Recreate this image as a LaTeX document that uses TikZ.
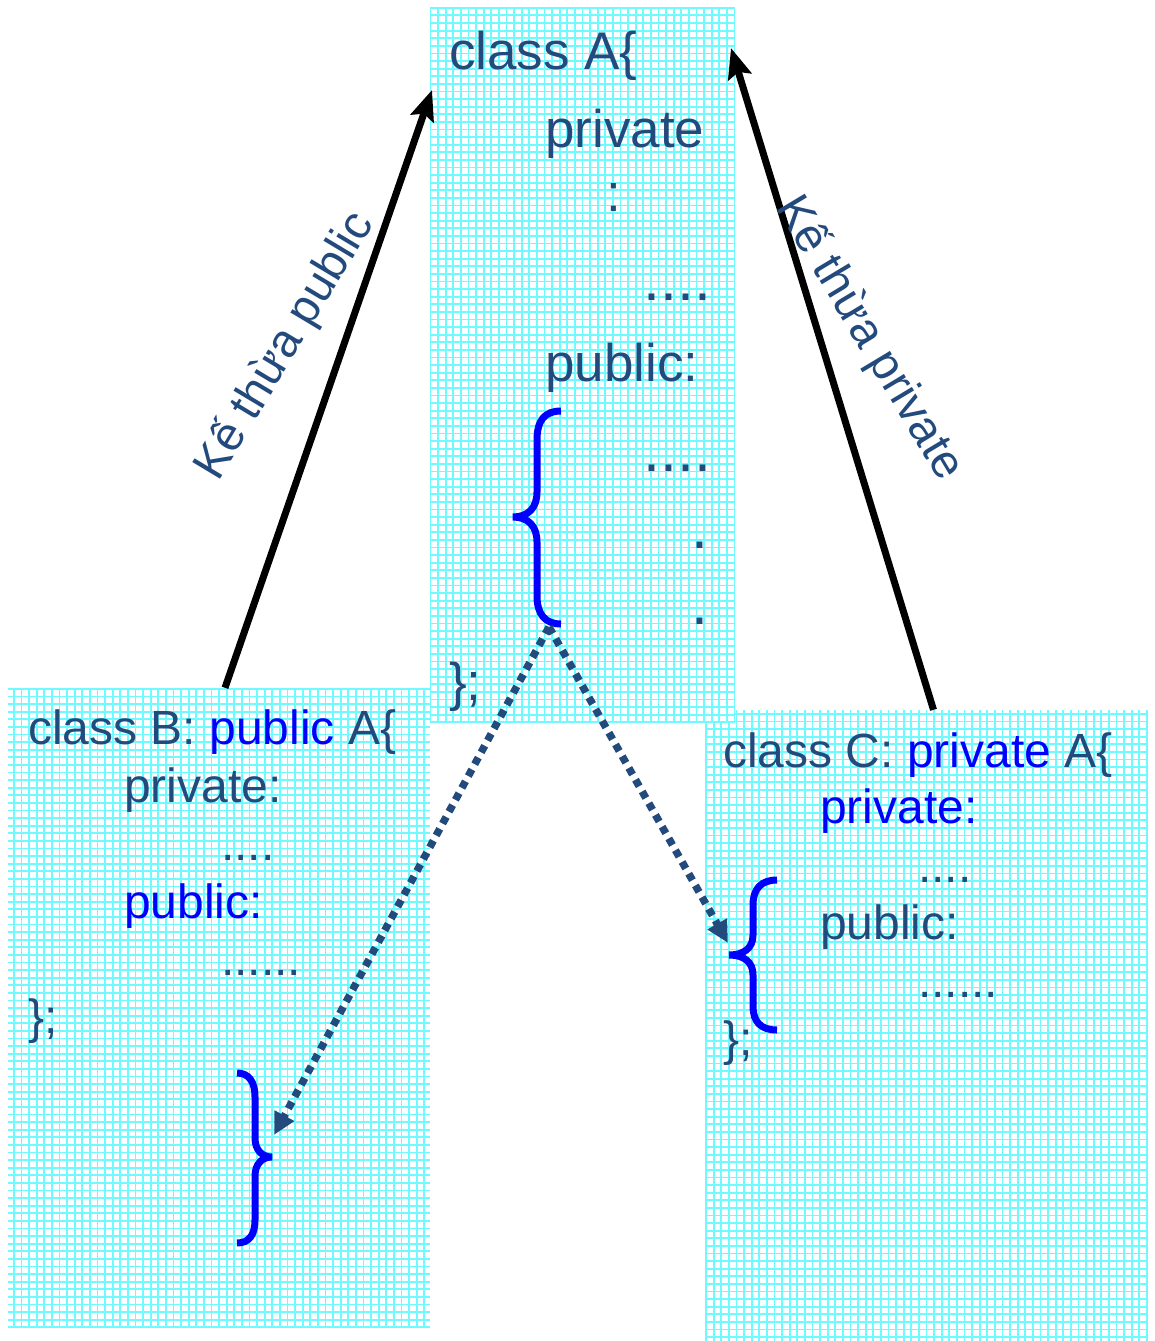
\documentclass[tikz,border=0pt]{standalone}
\usepackage{fontspec}
\setmainfont{Liberation Sans}
\usetikzlibrary{arrows.meta}
\definecolor{textblue}{RGB}{35,74,124}
\definecolor{keyblue}{RGB}{0,0,255}
\definecolor{gridcyan}{RGB}{110,250,255}

\begin{document}
\begin{tikzpicture}[x=1pt, y=-1pt,
      classbox/.style={inner sep=0pt, fill=white,
        path picture={\draw[gridcyan, line width=1.8pt]
          (path picture bounding box.south west) grid[step=7.6pt]
          (path picture bounding box.north east);}},
      code/.style={anchor=base west, inner sep=0pt, text=textblue,
        font=\fontsize{48}{56}\selectfont},
      bigcode/.style={code, font=\fontsize{53}{60}\selectfont},
      dots/.style={code, font=\fontsize{61}{70}\selectfont},
      label/.style={anchor=base west, inner sep=0pt, text=textblue,
        font=\fontsize{47}{54}\selectfont},
      curly/.style={keyblue, line width=7pt},
      inherit/.style={-{Stealth[length=30pt, width=24pt, inset=5pt]}, line width=7pt},
      dotline/.style={-{Triangle[length=22pt, width=21pt]}, textblue,
        line width=7.5pt, dash pattern=on 7.5pt off 6pt}
    ]
    \useasboundingbox (0,0) rectangle (1155,1341);

    % the three class boxes
    \node[classbox, minimum width=422pt, minimum height=640pt] (B) at (219,1008) {};
    \node[classbox, minimum width=443pt, minimum height=631pt] (C) at (926.5,1025.5) {};
    \node[classbox, minimum width=305pt, minimum height=716pt] (A) at (582.5,365) {};

    % class A
    \node[bigcode] (a1) at (449,69) {class A\{};
    \node[bigcode] (a2) at (545,147) {private};
    \node[bigcode] (a3) at (606,211) {:};
    \node[dots] (a4) at (643,300) {....};
    \node[bigcode] (a5) at (545,381) {public:};
    \node[dots] (a6) at (643,471) {....};
    \node[dots] (a7) at (691,548) {.};
    \node[dots] (a8) at (691,624) {.};
    \node[bigcode] (a9) at (449,700) {\};};

    % class B
    \node[code] (b1) at (28,744) {class B: \textcolor{keyblue}{public} A\{};
    \node[code] (b2) at (124,802) {private:};
    \node[code] (b3) at (221,860) {....};
    \node[code, text=keyblue] (b4) at (124,918) {public:};
    \node[code] (b5) at (221,975) {......};
    \node[code] (b6) at (28,1033) {\};};

    % class C
    \node[code] (c1) at (723,767) {class C: \textcolor{keyblue}{private} A\{};
    \node[code, text=keyblue] (c2) at (820,823) {private:};
    \node[code] (c3) at (918,882) {....};
    \node[code] (c4) at (820,939) {public:};
    \node[code] (c5) at (918,997) {......};
    \node[code] (c6) at (723,1055) {\};};

    % braces
    \draw[curly] (561,411) .. controls (545,411) and (537,420) .. (537,440)
      -- (537,492) .. controls (537,508) and (528,517) .. (513,517)
      .. controls (528,517) and (537,526) .. (537,542)
      -- (537,596) .. controls (537,614) and (545,624) .. (561,624);
    \draw[curly] (237,1073) .. controls (249,1073) and (255,1082) .. (255,1097)
      -- (255,1138) .. controls (255,1150) and (262,1157) .. (272,1157)
      .. controls (262,1157) and (255,1164) .. (255,1176)
      -- (255,1220) .. controls (255,1235) and (249,1243) .. (237,1243);
    \draw[curly] (777,880) .. controls (761,880) and (753,889) .. (753,905)
      -- (753,935) .. controls (753,948) and (744,955) .. (729,955)
      .. controls (744,955) and (753,962) .. (753,975)
      -- (753,1006) .. controls (753,1022) and (761,1030) .. (777,1030);

    \coordinate (pubTip) at (432,90);
    \coordinate (privTip) at (731,48);
    \coordinate (braceA) at (549,627);
    \coordinate (braceB) at (274,1135);
    \coordinate (braceC) at (728,943);

    % inheritance arrows
    \draw[inherit] ([xshift=6pt]B.north) -- (pubTip);
    \draw[inherit] ([xshift=7pt]C.north) -- (privTip);
    \node[label, rotate=59] (lpub) at (218,483) {Kế thừa public};
    \node[label, rotate=-59] (lpriv) at (775,207) {Kế thừa private};

    \draw[dotline] (braceA) -- (braceB);
    \draw[dotline] (braceA) -- (braceC);
\end{tikzpicture}
\end{document}
